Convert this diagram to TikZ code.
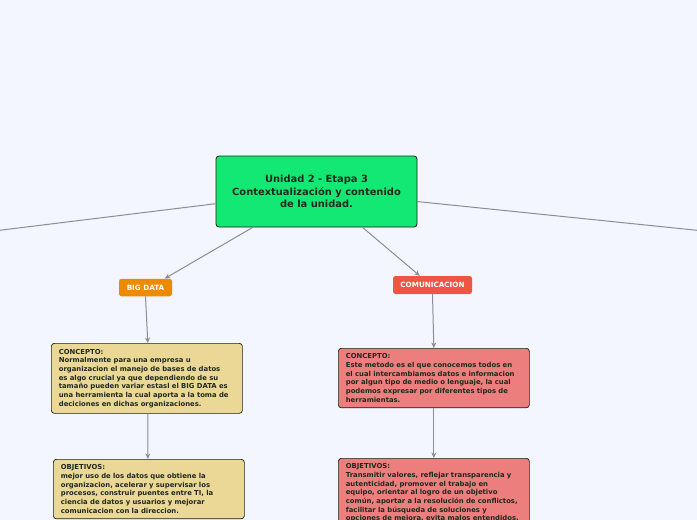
\documentclass[tikz,border=0pt]{standalone}
\usepackage{fontspec}
\setmainfont{DejaVu Sans}
\usetikzlibrary{arrows.meta,calc}
\definecolor{bg}{HTML}{F3F6FE}
\definecolor{maingreen}{HTML}{14E874}
\definecolor{bdorange}{HTML}{EE8A00}
\definecolor{comred}{HTML}{EE5545}
\definecolor{tan}{HTML}{EBD896}
\definecolor{pink}{HTML}{EC7E7E}
\definecolor{edge}{HTML}{8A8D96}
\definecolor{ink}{HTML}{1E2A1E}
\tikzset{
  mainbox/.style={draw=ink!80!black, line width=0.8pt, fill=maingreen, rounded corners=3pt,
    minimum width=201pt, minimum height=71pt, align=center, text=ink,
    font=\fontsize{9.9}{12.2}\selectfont\bfseries},
  tagbox/.style={fill=#1, rounded corners=2.5pt, text=white, inner sep=0pt,
    font=\fontsize{7.2}{8}\selectfont\bfseries},
  infobox/.style={draw=ink!80!black, line width=0.7pt, fill=#1, rounded corners=3pt,
    anchor=north west, align=left, text width=176pt, inner xsep=7.5pt, inner ysep=5.5pt,
    text=ink, font=\fontsize{6.85}{8.65}\selectfont\bfseries},
  link/.style={draw=edge, line width=1pt},
  arr/.style={link, -{Stealth[length=5.5pt,width=5pt]}}
}
\begin{document}
\begin{tikzpicture}[x=1pt,y=-1pt]
\fill[bg] (0,0) rectangle (697,520);
\useasboundingbox (0,0) rectangle (697,520);
\clip (0,0) rectangle (697,520);

\node[mainbox] (central) at (316.5,191.5) {Unidad 2 - Etapa 3\\Contextualización y contenido\\de la unidad.};

\node[tagbox=bdorange, minimum width=53pt, minimum height=17.5pt] (bigdata) at (145.5,287.5) {BIG DATA};
\node[tagbox=comred, minimum width=79pt, minimum height=18pt] (comunic) at (432.5,285) {COMUNICACION};

\node[infobox=tan, minimum height=70pt] (bdconcepto) at (51,343) {CONCEPTO:\\Normalmente para una empresa u\\organizacion el manejo de bases de datos\\es algo crucial ya que dependiendo de su\\tamaño pueden variar estasl el BIG DATA es\\una herramienta la cual aporta a la toma de\\deciciones en dichas organizaciones.};

\node[infobox=tan] (bdobjetivos) at (53,459) {OBJETIVOS:\\mejor uso de los datos que obtiene la\\organizacion, acelerar y supervisar los\\procesos, construir puentes entre TI, la\\ciencia de datos y usuarios y mejorar\\comunicacion con la direccion.};

\node[infobox=pink] (comconcepto) at (338,348) {CONCEPTO:\\Este metodo es el que conocemos todos en\\el cual intercambiamos datos e informacion\\por algun tipo de medio o lenguaje, la cual\\podemos expresar por diferentes tipos de\\herramientas.};

\node[infobox=pink] (comobjetivos) at (338,458) {OBJETIVOS:\\Transmitir valores, reflejar transparencia y\\autenticidad, promover el trabajo en\\equipo, orientar al logro de un objetivo\\común, aportar a la resolución de conflictos,\\facilitar la búsqueda de soluciones y\\opciones de mejora, evita malos entendidos.};

\coordinate (leftend) at (-2,230.5);
\coordinate (rightend) at (699,230.5);

\draw[link] ($(central.north west)!0.67!(central.south west)$) -- (leftend);
\draw[link] ($(central.north east)!0.64!(central.south east)$) -- (rightend);

\draw[arr] ($(central.south west)!0.184!(central.south east)$) -- ($(bigdata.north west)!0.86!(bigdata.north east)$);
\draw[arr] ($(central.south west)!0.728!(central.south east)$) -- ($(comunic.north west)!0.34!(comunic.north east)$);

\draw[arr] ($(bigdata.south west)!0.5!(bigdata.south east)$) -- ($(bdconcepto.north west)!0.505!(bdconcepto.north east)$);
\draw[arr] ($(bdconcepto.south west)!0.505!(bdconcepto.south east)$) -- ($(bdobjetivos.north west)!0.495!(bdobjetivos.north east)$);

\draw[arr] (comunic.south) -- (comconcepto.north);
\draw[arr] (comconcepto.south) -- (comobjetivos.north);
\end{tikzpicture}
\end{document}
